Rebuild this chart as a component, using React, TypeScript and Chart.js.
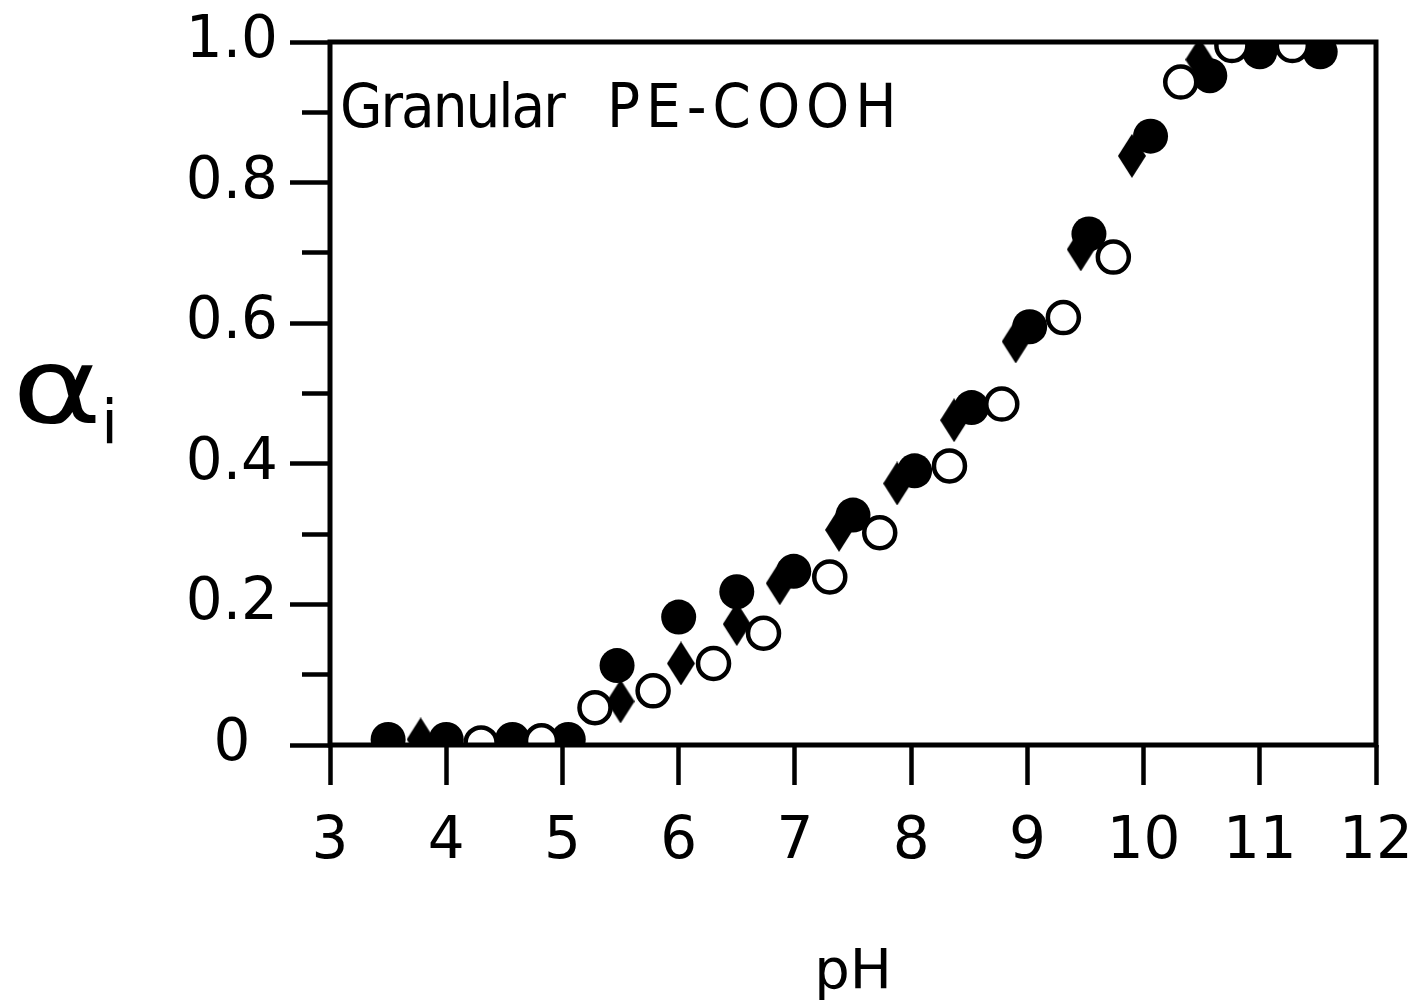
import React, { useEffect, useRef } from 'react';
import { Chart, registerables } from 'chart.js';

Chart.register(...registerables);

// ---- data ----
const filledPH = [3.5, 4.0, 4.57, 5.05, 5.47, 6.0, 6.5, 6.99, 7.5, 8.03, 8.52, 9.02, 9.53, 10.06, 10.57, 11.0, 11.52];
const filledAlpha = [0.008, 0.008, 0.008, 0.008, 0.113, 0.182, 0.218, 0.247, 0.327, 0.39, 0.48, 0.595, 0.727, 0.866, 0.952, 0.986, 0.986];

const diamondPH = [3.78, 5.5, 6.02, 6.5, 6.87, 7.38, 7.88, 8.37, 8.9, 9.46, 9.9, 10.48];
const diamondAlpha = [0.008, 0.062, 0.116, 0.172, 0.23, 0.306, 0.372, 0.462, 0.574, 0.705, 0.838, 0.975];

const openPH = [4.3, 4.82, 5.28, 5.78, 6.3, 6.73, 7.3, 7.73, 8.33, 8.78, 9.31, 9.74, 10.32, 10.76, 11.28];
const openAlpha = [0.003, 0.006, 0.053, 0.077, 0.116, 0.159, 0.239, 0.302, 0.397, 0.485, 0.608, 0.694, 0.943, 0.995, 0.995];

const xMin = 3;
const xMax = 12;
const yMin = 0;
const yMax = 1;
const xTitle = 'pH';
const yTitleMain = 'α';
const yTitleSub = 'i';
const annotationWords = ['Granular', 'PE-COOH'];

const FONT = "'DejaVu Sans', 'Liberation Sans', sans-serif";
const NARROW_FONT = "'DejaVu Sans Condensed', 'DejaVu Sans', sans-serif";

function makeDiamond(w: number, h: number): HTMLCanvasElement {
  const c = document.createElement('canvas');
  c.width = w;
  c.height = h;
  const g = c.getContext('2d')!;
  g.fillStyle = '#000';
  g.beginPath();
  g.moveTo(w / 2, 0);
  g.lineTo(w, h / 2);
  g.lineTo(w / 2, h);
  g.lineTo(0, h / 2);
  g.closePath();
  g.fill();
  return c;
}

const framePlugin = {
  id: 'frameBox',
  afterDatasetsDraw(chart: any) {
    const { ctx, chartArea: a } = chart;
    ctx.save();
    ctx.lineWidth = 5;
    ctx.strokeStyle = '#000';
    ctx.strokeRect(a.left, a.top, a.right - a.left, a.bottom - a.top);
    ctx.restore();
  },
};

const toPoints = (xs: number[], ys: number[]) => xs.map((x, i) => ({ x, y: ys[i] }));

export default function App() {
  const ref = useRef<HTMLCanvasElement | null>(null);

  useEffect(() => {
    if (!ref.current) return;
    const diamond = makeDiamond(28, 44);
    const chart = new Chart(ref.current, {
      type: 'scatter',
      data: {
        datasets: [
          {
            label: 'open',
            data: toPoints(openPH, openAlpha),
            pointStyle: 'circle',
            pointRadius: 15.5,
            pointBorderWidth: 4.5,
            pointBackgroundColor: '#fff',
            pointBorderColor: '#000',
            order: 0,
          },
          {
            label: 'diamond',
            data: toPoints(diamondPH, diamondAlpha),
            pointStyle: diamond as any,
            pointRadius: 16,
            pointBorderWidth: 0,
            pointBackgroundColor: '#000',
            pointBorderColor: '#000',
            order: 1,
          },
          {
            label: 'filled',
            data: toPoints(filledPH, filledAlpha),
            pointStyle: 'circle',
            pointRadius: 17.5,
            pointBorderWidth: 0,
            pointBackgroundColor: '#000',
            pointBorderColor: '#000',
            order: 2,
          },
        ],
      },
      options: {
        responsive: false,
        animation: false,
        devicePixelRatio: 1,
        layout: { padding: { left: 150, top: 42, right: 39, bottom: 0 } },
        plugins: {
          legend: { display: false },
          tooltip: { enabled: false },
        },
        scales: {
          x: {
            type: 'linear',
            position: 'bottom',
            min: xMin,
            max: xMax,
            ticks: {
              stepSize: 1,
              autoSkip: false,
              maxRotation: 0,
              padding: 23,
              color: '#000',
              font: { family: FONT, size: 58 },
            },
            grid: {
              drawOnChartArea: false,
              drawTicks: true,
              tickLength: 40,
              tickWidth: 4.5,
              tickColor: '#000',
            },
            border: { display: false },
            title: {
              display: true,
              text: xTitle,
              color: '#000',
              font: { family: FONT, size: 56 },
              padding: { top: 0, bottom: -6 },
            },
            afterFit: (s: any) => {
              s.height = 256;
              s.paddingLeft = 0;
              s.paddingRight = 0;
            },
          },
          y: {
            type: 'linear',
            min: yMin,
            max: yMax,
            ticks: {
              stepSize: 0.1,
              autoSkip: false,
              padding: 12,
              crossAlign: 'center',
              color: '#000',
              font: { family: FONT, size: 58 },
              callback: (v: any) => {
                const k = Math.round(Number(v) * 10);
                if (k % 2 !== 0) return '';
                if (k === 0) return '0';
                return (k / 10).toFixed(1);
              },
            },
            grid: {
              drawOnChartArea: false,
              drawTicks: true,
              tickLength: 40,
              tickWidth: 4.5,
              tickColor: '#000',
              tickBorderDash: (c: any) => {
                const k = Math.round(Number(c.tick ? c.tick.value : 0) * 10);
                return k % 2 === 0 ? [] : [0, 12, 80, 0];
              },
            },
            border: { display: false },
            afterFit: (s: any) => {
              s.width = 180;
              s.paddingTop = 0;
              s.paddingBottom = 0;
            },
          },
        },
      },
      plugins: [framePlugin],
    } as any);
    return () => chart.destroy();
  }, []);

  const annoBase: React.CSSProperties = {
    position: 'absolute',
    top: 75,
    fontFamily: NARROW_FONT,
    fontSize: 61,
    lineHeight: 1,
    whiteSpace: 'pre',
    color: '#000',
  };

  return (
    <div style={{ position: 'absolute', left: 0, top: 0, width: 1415, height: 1001, background: '#fff' }}>
      <canvas ref={ref} width={1415} height={1001} style={{ display: 'block' }} />
      <div style={{ ...annoBase, left: 340, letterSpacing: -2 }}>{annotationWords[0]}</div>
      <div style={{ ...annoBase, left: 607, letterSpacing: 6 }}>{annotationWords[1]}</div>
      <div
        style={{
          position: 'absolute',
          left: 12,
          top: 335,
          fontFamily: FONT,
          fontSize: 105,
          lineHeight: 1,
          color: '#000',
          whiteSpace: 'pre',
        }}
      >
        <span style={{ display: 'inline-block', transform: 'scaleX(1.3)', transformOrigin: 'left center', marginRight: 20 }}>
          {yTitleMain}
        </span>
        <span style={{ fontSize: 60, position: 'relative', top: 20 }}>{yTitleSub}</span>
      </div>
    </div>
  );
}
